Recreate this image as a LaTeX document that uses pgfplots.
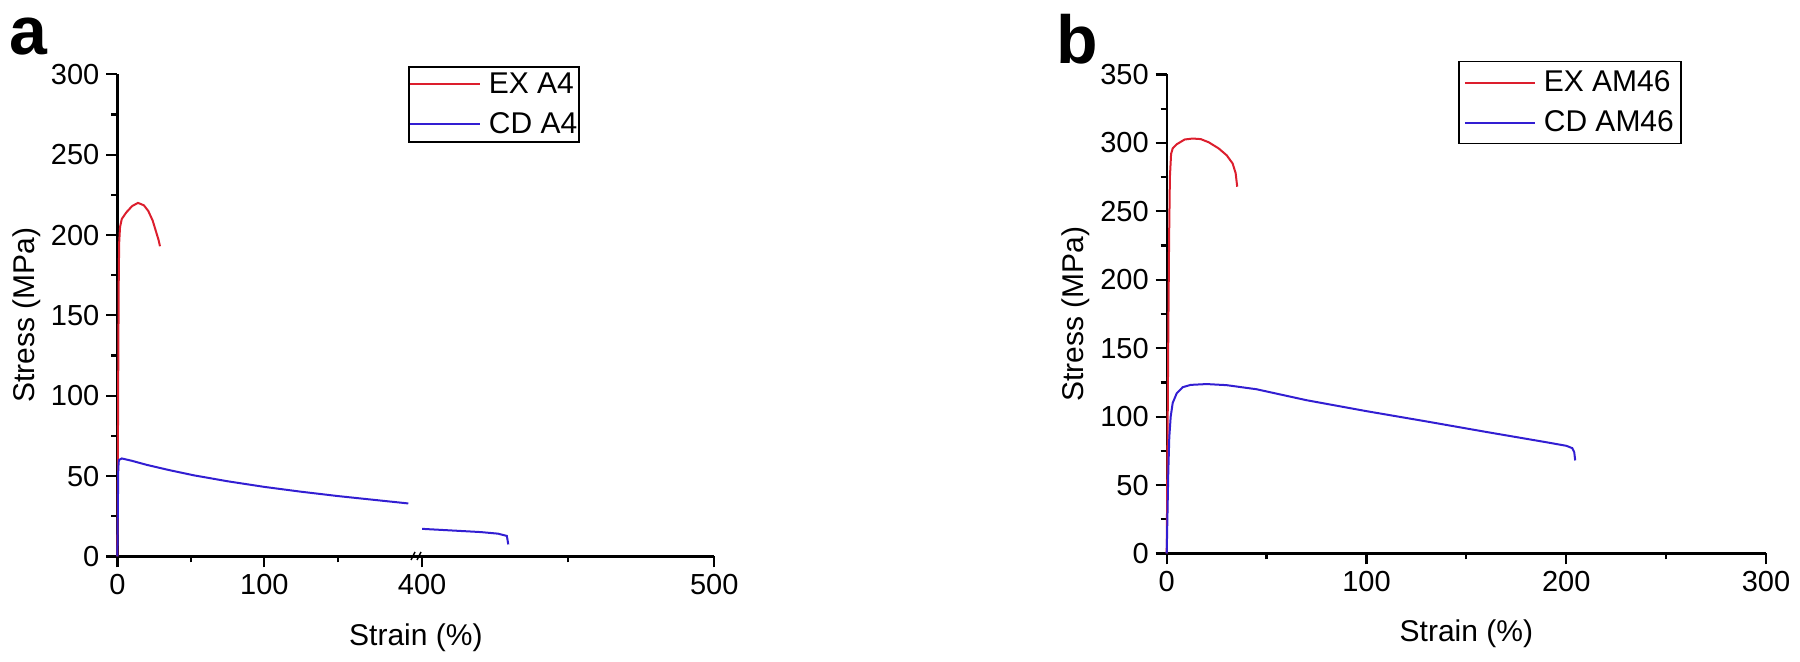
\documentclass[border=0pt]{standalone}
\usepackage{fontspec}
\setmainfont{Liberation Sans}
\usepackage{pgfplots}
\pgfplotsset{compat=1.18}

\definecolor{exred}{RGB}{220,30,45}
\definecolor{cdblue}{RGB}{50,30,210}

\pgfplotsset{
  tensile/.style={
    scale only axis,
    axis x line=bottom, axis y line=left,
    axis line style={-, line width=1.2pt, black},
    tick align=outside,
    major tick length=5.5pt, minor tick length=3pt,
    every tick/.style={black, line width=1.1pt},
    tick label style={font=\fontsize{14.5}{16}\selectfont},
    label style={font=\fontsize{15}{17}\selectfont},
    /pgf/number format/assume math mode=true,
    ymin=0, clip=false,
    minor y tick num=1,
    legend cell align=left,
    legend image code/.code={\draw[#1] (0pt,0pt) -- (35pt,0pt);},
  },
  curve/.style={line width=1pt, no marks},
}

\begin{document}
\begin{tikzpicture}
\path[use as bounding box] (0,0) rectangle (900pt,331pt);

% panel a, left part of the broken axis
\begin{axis}[tensile,
  at={(58.7pt,52.75pt)}, anchor=south west,
  width=150.3pt, height=241.1pt,
  xmin=0, xmax=204.6, ymax=300,
  xtick={0,100}, minor xtick={50,150},
  ytick={0,50,...,300},
  xlabel={Strain (\%)}, ylabel={Stress (MPa)},
  xlabel style={at={(axis description cs:0.993,-0.168)}, anchor=center},
  ylabel style={at={(axis description cs:-0.302,0.5)}, anchor=center, rotate=0},
  legend style={at={(axis description cs:0.9667,1.0172)}, anchor=north west,
    draw=black, line width=0.9pt, inner xsep=0pt, inner ysep=1.8pt,
    font=\fontsize{15}{17}\selectfont, row sep=6pt, column sep=3pt,
    nodes={inner sep=1pt}},
]
\addplot[curve, exred] coordinates {
  (0,0) (0.3,60) (0.6,120) (0.9,170) (1.2,195) (1.8,205) (3,210) (6,214)
  (10,218) (14,220) (18,218.5) (21,215) (24,209) (26,203) (28,197) (29,193)
};
\addplot[curve, cdblue] coordinates {
  (0,0) (0.3,30) (0.6,55) (1,60) (3,61) (10,59.5) (20,57) (35,53.8)
  (52,50.5) (75,46.8) (100,43.3) (125,40.3) (151,37.5) (175,35.2) (198,33)
};
\legend{EX A4, CD A4}
\end{axis}

% panel a, right part of the broken axis
\begin{axis}[tensile,
  at={(209pt,52.75pt)}, anchor=south west,
  width=148.15pt, height=241.1pt,
  xmin=398.6, xmax=500, ymax=300,
  axis y line=none,
  xtick={400,500}, minor xtick={450},
]
\addplot[curve, cdblue] coordinates {
  (400,17.2) (410,16.2) (420,15.2) (426,14.2) (429,12.8) (429.5,7.5)
};
\end{axis}

% break mark
\draw[line width=0.7pt] (205.5pt,51pt) -- (207.5pt,55pt);
\draw[line width=0.7pt] (208.5pt,51pt) -- (210.5pt,55pt);

% panel b
\begin{axis}[tensile,
  at={(583.35pt,54.25pt)}, anchor=south west,
  width=299.65pt, height=239.5pt,
  xmin=0, xmax=300, ymax=350,
  xtick={0,100,200,300}, minor xtick={50,150,250},
  ytick={0,50,...,350},
  xlabel={Strain (\%)}, ylabel={Stress (MPa)},
  xlabel style={at={(axis description cs:0.5,-0.168)}, anchor=center},
  ylabel style={at={(axis description cs:-0.1513,0.5)}, anchor=center, rotate=0},
  legend style={at={(axis description cs:0.486,1.0288)}, anchor=north west,
    draw=black, line width=0.9pt, inner xsep=2.5pt, inner ysep=3.5pt,
    font=\fontsize{15}{17}\selectfont, row sep=6pt, column sep=3pt,
    nodes={inner sep=1pt}},
]
\addplot[curve, exred] coordinates {
  (0,0) (0.4,80) (0.8,160) (1.2,230) (1.6,275) (2.2,292) (3,296) (5,299)
  (9,302.5) (13,303.2) (17,302.8) (21,300.5) (26,296) (30,291) (33,285)
  (34.5,278) (35.3,268)
};
\addplot[curve, cdblue] coordinates {
  (0,0) (0.4,30) (0.8,60) (1.3,85) (2,100) (3,110) (5,117) (8,121.5)
  (12,123.2) (20,123.8) (30,123) (45,120) (70,112) (100,104) (130,96.5)
  (160,88.8) (190,81.3) (200,78.7) (203,77) (204,74) (204.5,68)
};
\legend{EX AM46, CD AM46}
\end{axis}

\node[anchor=base west, inner sep=0pt, font=\fontsize{34}{40}\selectfont\bfseries] at (4.5pt,303.5pt) {a};
\node[anchor=base west, inner sep=0pt, font=\fontsize{34}{40}\selectfont\bfseries] at (528pt,299pt) {b};
\end{tikzpicture}
\end{document}
